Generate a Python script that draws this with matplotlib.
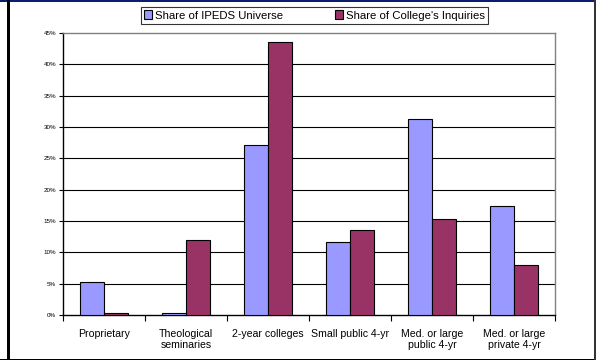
import numpy as np
import matplotlib.pyplot as plt
from matplotlib.patches import Rectangle
from matplotlib.ticker import FuncFormatter

plt.rcParams['font.family'] = ['Liberation Sans', 'DejaVu Sans']

# institution types and share of each (percent)
categories = ['Proprietary', 'Theological\nseminaries', '2-year colleges',
              'Small public 4-yr', 'Med. or large\npublic 4-yr', 'Med. or large\nprivate 4-yr']
ipeds_share = [5.2, 0.3, 27.2, 11.7, 31.3, 17.4]
inquiry_share = [0.3, 12.0, 43.6, 13.5, 15.3, 7.9]
series_names = ['Share of IPEDS Universe', "Share of College's Inquiries"]
yticks = [0, 5, 10, 15, 20, 25, 30, 35, 40, 45]

blue = '#9999ff'
plum = '#993366'

fig = plt.figure(figsize=(5.96, 3.6), dpi=100)
ax = fig.add_axes([63/596, 1-315/360, (555-63)/596, (315-33)/360])

x = np.arange(len(categories))
w = 0.29
b1 = ax.bar(x - w/2, ipeds_share, w, color=blue, edgecolor='black', linewidth=0.8,
            label=series_names[0], zorder=3)
b2 = ax.bar(x + w/2, inquiry_share, w, color=plum, edgecolor='black', linewidth=0.8,
            label=series_names[1], zorder=3)

ax.set_xlim(-0.5, len(categories) - 0.5)
ax.set_ylim(0, 45)
ax.set_yticks(yticks)
ax.yaxis.set_major_formatter(FuncFormatter(lambda v, p: '%d%%' % v))
ax.tick_params(axis='y', labelsize=4.5, length=3, width=0.8, pad=2)

# category labels between boundary ticks
ax.set_xticks(x)
ax.set_xticklabels(categories, fontsize=7.6, linespacing=1.15)
ax.tick_params(axis='x', length=0, pad=10)
ax.set_xticks(np.arange(len(categories) + 1) - 0.5, minor=True)
ax.tick_params(axis='x', which='minor', length=4, width=0.8, direction='out')

for v in yticks[1:-1]:
    ax.axhline(v, color='black', linewidth=0.8, zorder=1)

for s in ['top', 'right']:
    ax.spines[s].set_color('#808080')
    ax.spines[s].set_linewidth(1.0)
for s in ['left', 'bottom']:
    ax.spines[s].set_color('black')
    ax.spines[s].set_linewidth(1.0)

leg = fig.legend(handles=[b1, b2], loc='upper center', bbox_to_anchor=(314.5/596, 1-7/360),
                 ncol=2, fontsize=8.2, frameon=True, fancybox=False, edgecolor='black',
                 handlelength=0.75, handleheight=0.75, handletextpad=0.25, columnspacing=4.5,
                 borderpad=0.3, borderaxespad=0)
leg.get_frame().set_linewidth(0.8)

# outer frame
fig.add_artist(Rectangle((0, 1-2/360), 1, 2/360, transform=fig.transFigure,
                         facecolor='#0a1e6e', edgecolor='none'))
fig.add_artist(Rectangle((7/596, 0), 2.5/596, 1, transform=fig.transFigure,
                         facecolor='black', edgecolor='none'))
fig.add_artist(Rectangle((0, 0), 1, 1.5/360, transform=fig.transFigure,
                         facecolor='black', edgecolor='none'))
fig.add_artist(Rectangle((1-2/596, 0), 2/596, 1, transform=fig.transFigure,
                         facecolor='#333333', edgecolor='none'))

fig.savefig('out.png', dpi=100)
